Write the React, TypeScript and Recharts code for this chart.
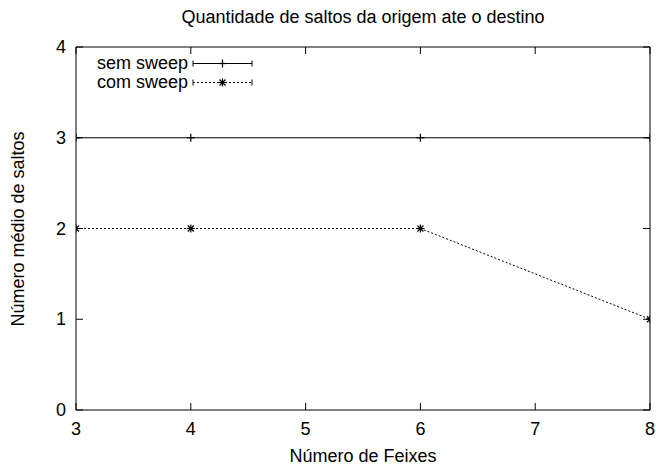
import { LineChart, Line, XAxis, YAxis, Legend } from 'recharts';

const feixes = [3, 4, 6, 8];
const semSweep = [3, 3, 3, 3];
const comSweep = [2, 2, 2, 1];
const xTicks = [3, 4, 5, 6, 7, 8];
const yTicks = [0, 1, 2, 3, 4];
const seriesNames = ['sem sweep', 'com sweep'];

const data = feixes.map((f, i) => ({ feixes: f, sem: semSweep[i], com: comSweep[i] }));

const FONT = '"Liberation Sans", Arial, Helvetica, sans-serif';
const FS = 18;

const PlusMark = ({ cx, cy }: any) => (
  <g stroke="#000" strokeWidth={1.2}>
    <line x1={cx - 4} y1={cy} x2={cx + 4} y2={cy} />
    <line x1={cx} y1={cy - 4} x2={cx} y2={cy + 4} />
  </g>
);

const StarMark = ({ cx, cy }: any) => (
  <g stroke="#000" strokeWidth={1.2}>
    <line x1={cx - 4} y1={cy} x2={cx + 4} y2={cy} />
    <line x1={cx} y1={cy - 4} x2={cx} y2={cy + 4} />
    <line x1={cx - 3} y1={cy - 3} x2={cx + 3} y2={cy + 3} />
    <line x1={cx - 3} y1={cy + 3} x2={cx + 3} y2={cy - 3} />
  </g>
);

const BottomTick = ({ x, y, payload }: any) => (
  <g>
    <line x1={x} y1={y} x2={x} y2={y - 7} stroke="#000" />
    <text x={x} y={y + 25} textAnchor="middle" fontFamily={FONT} fontSize={FS} fill="#000">
      {payload.value}
    </text>
  </g>
);

const TopTick = ({ x, y }: any) => <line x1={x} y1={y} x2={x} y2={y + 7} stroke="#000" />;

const LeftTick = ({ x, y, payload }: any) => (
  <g>
    <line x1={x} y1={y} x2={x + 7} y2={y} stroke="#000" />
    <text x={x - 10} y={y + 6} textAnchor="end" fontFamily={FONT} fontSize={FS} fill="#000">
      {payload.value}
    </text>
  </g>
);

const RightTick = ({ x, y }: any) => <line x1={x} y1={y} x2={x - 7} y2={y} stroke="#000" />;

const LegendBox = () => (
  <div style={{ fontFamily: FONT, fontSize: FS, color: '#000' }}>
    {seriesNames.map((name, i) => (
      <div key={name} style={{ display: 'flex', alignItems: 'center', height: 19 }}>
        <span style={{ width: 103, textAlign: 'right', lineHeight: '19px' }}>{name}</span>
        <svg width={64} height={19} style={{ marginLeft: 4 }}>
          <g stroke="#000" strokeWidth={1}>
            <line x1={1} y1={9.5} x2={60} y2={9.5} strokeDasharray={i === 1 ? '2 2' : undefined} />
            <line x1={1} y1={6.5} x2={1} y2={12.5} />
            <line x1={60} y1={6.5} x2={60} y2={12.5} />
          </g>
          {i === 0 ? <PlusMark cx={30.5} cy={9.5} /> : <StarMark cx={30.5} cy={9.5} />}
        </svg>
      </div>
    ))}
  </div>
);

export default function App() {
  return (
    <div style={{ position: 'absolute', left: 0, top: 0, width: 656, height: 467, background: '#fff' }}>
      <div
        style={{
          position: 'absolute', left: 0, width: 726, top: 7, textAlign: 'center',
          fontFamily: FONT, fontSize: FS, color: '#000',
        }}
      >
        Quantidade de saltos da origem ate o destino
      </div>
      <div
        style={{
          position: 'absolute', left: 363, top: 446, transform: 'translateX(-50%)', whiteSpace: 'nowrap',
          fontFamily: FONT, fontSize: FS, color: '#000',
        }}
      >
        Número de Feixes
      </div>
      <div
        style={{
          position: 'absolute', left: 18, top: 229, transform: 'translate(-50%, -50%) rotate(-90deg)',
          whiteSpace: 'nowrap', fontFamily: FONT, fontSize: FS, color: '#000',
        }}
      >
        Número médio de saltos
      </div>
      <LineChart width={656} height={467} data={data} margin={{ top: 46, right: 5, bottom: 56, left: 75 }}>
        <XAxis
          xAxisId="b" dataKey="feixes" type="number" domain={[3, 8]} ticks={xTicks} height={1}
          tickSize={0} tickMargin={0} tickLine={false} tick={<BottomTick />}
          axisLine={{ stroke: '#000' }} interval={0} allowDataOverflow
        />
        <XAxis
          xAxisId="t" orientation="top" dataKey="feixes" type="number" domain={[3, 8]} ticks={xTicks} height={1}
          tickSize={0} tickMargin={0} tickLine={false} tick={<TopTick />}
          axisLine={{ stroke: '#000' }} interval={0} allowDataOverflow
        />
        <YAxis
          yAxisId="l" type="number" domain={[0, 4]} ticks={yTicks} width={1}
          tickSize={0} tickMargin={0} tickLine={false} tick={<LeftTick />}
          axisLine={{ stroke: '#000' }} interval={0} allowDataOverflow
        />
        <YAxis
          yAxisId="r" orientation="right" type="number" domain={[0, 4]} ticks={yTicks} width={1}
          tickSize={0} tickMargin={0} tickLine={false} tick={<RightTick />}
          axisLine={{ stroke: '#000' }} interval={0} allowDataOverflow
        />
        <Legend
          layout="vertical" align="center" verticalAlign="middle" content={<LegendBox />}
          wrapperStyle={{ position: 'absolute', left: 85, top: 54, width: 'auto', height: 'auto' }}
        />
        <Line
          xAxisId="b" yAxisId="l" dataKey="sem" name={seriesNames[0]} stroke="#000" strokeWidth={1}
          dot={<PlusMark />} activeDot={false} isAnimationActive={false}
        />
        <Line
          xAxisId="b" yAxisId="l" dataKey="com" name={seriesNames[1]} stroke="#000" strokeWidth={1}
          strokeDasharray="2 2" dot={<StarMark />} activeDot={false} isAnimationActive={false}
        />
      </LineChart>
    </div>
  );
}
